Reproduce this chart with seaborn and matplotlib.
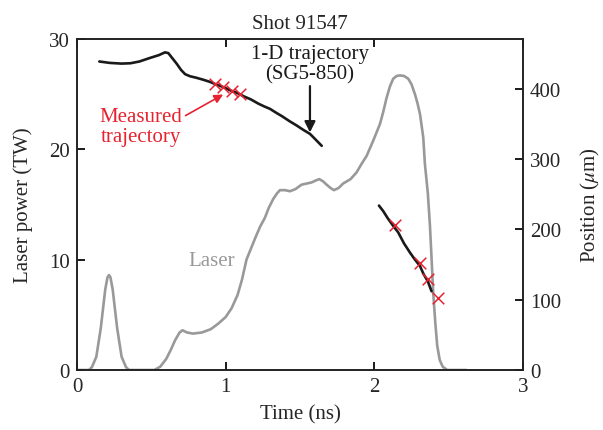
import numpy as np
import pandas as pd
import matplotlib
matplotlib.use("Agg")
import matplotlib.pyplot as plt
import seaborn as sns

# Laser pulse shape (time in ns, power in TW)
laser_time = [0.00, 0.08, 0.10, 0.13, 0.16, 0.19, 0.205, 0.215, 0.225, 0.24,
              0.27, 0.30, 0.33, 0.35, 0.52, 0.56, 0.60, 0.63, 0.66, 0.69,
              0.71, 0.74, 0.78, 0.84, 0.90, 0.95, 1.00, 1.04, 1.08, 1.11,
              1.14, 1.17, 1.20, 1.232, 1.264, 1.29, 1.32, 1.345, 1.365, 1.40,
              1.432, 1.47, 1.511, 1.545, 1.578, 1.61, 1.63, 1.655, 1.679, 1.705,
              1.728, 1.76, 1.79, 1.84, 1.88, 1.915, 1.948, 1.993, 2.038, 2.06,
              2.083, 2.105, 2.127, 2.15, 2.172, 2.20, 2.228, 2.25, 2.273, 2.29,
              2.307, 2.329, 2.34, 2.36, 2.374, 2.385, 2.396, 2.41, 2.423, 2.44,
              2.46, 2.49, 2.62]
laser_power = [0.0, 0.0, 0.25, 1.2, 3.8, 7.3, 8.4, 8.6, 8.4, 7.3,
               3.8, 1.2, 0.25, 0.0, 0.0, 0.3, 1.0, 1.8, 2.7, 3.4,
               3.6, 3.4, 3.3, 3.4, 3.7, 4.2, 4.8, 5.6, 6.8, 8.2,
               10.0, 11.0, 12.0, 13.0, 13.8, 14.7, 15.5, 16.0, 16.3, 16.3,
               16.2, 16.4, 16.8, 16.9, 17.0, 17.2, 17.3, 17.1, 16.8, 16.5,
               16.3, 16.5, 16.9, 17.3, 17.9, 18.7, 19.4, 20.8, 22.3, 23.4,
               24.7, 25.7, 26.4, 26.65, 26.7, 26.65, 26.4, 25.9, 25.0, 24.2,
               23.2, 21.1, 18.7, 16.0, 13.1, 10.1, 7.0, 4.3, 2.2, 0.9,
               0.3, 0.0, 0.0]

# 1-D simulated trajectory (SG5-850), two segments (time ns, position um)
sim1_time = [0.15, 0.22, 0.30, 0.36, 0.42, 0.49, 0.55, 0.592, 0.614, 0.64,
             0.67, 0.70, 0.727, 0.76, 0.80, 0.85, 0.894, 0.94, 0.984, 1.03,
             1.08, 1.119, 1.17, 1.22, 1.26, 1.298, 1.34, 1.38, 1.43, 1.477,
             1.52, 1.567, 1.60, 1.646]
sim1_pos = [439, 437, 436, 436.5, 439, 444, 448, 452, 451, 444,
            436, 427, 421, 418, 416, 413, 410, 406, 402.6, 398,
            394, 389.7, 385, 379, 375, 371.6, 366, 361, 354, 348,
            342, 336, 329, 319]
sim2_time = [2.031, 2.06, 2.09, 2.127, 2.16, 2.20, 2.24, 2.27, 2.307, 2.33,
             2.36, 2.385]
sim2_pos = [234, 226, 216, 205, 196, 180, 167, 158, 148, 137, 126, 112]

# Measured trajectory points
meas_time = [0.928, 0.984, 1.04, 1.096, 2.138, 2.306, 2.362, 2.425]
meas_pos = [407, 402.5, 397.7, 393, 206.7, 152, 129, 101.8]

sns.set_theme(style="ticks")
plt.rcParams["font.family"] = ["Liberation Serif", "DejaVu Serif"]
plt.rcParams["mathtext.fontset"] = "stix"

FS = 15
GRAY = "#999999"
RED = "#e62330"

fig = plt.figure(figsize=(6.03, 4.31), dpi=100)
ax = fig.add_axes([77 / 603, 1 - 371 / 431, (523 - 77) / 603, (371 - 40) / 431])
ax2 = ax.twinx()

laser_df = pd.DataFrame({"t": laser_time, "P": laser_power})
sns.lineplot(data=laser_df, x="t", y="P", ax=ax, color=GRAY, lw=1.9,
             sort=False, estimator=None)

for tt, pp in [(sim1_time, sim1_pos), (sim2_time, sim2_pos)]:
    seg = pd.DataFrame({"t": tt, "pos": pp})
    sns.lineplot(data=seg, x="t", y="pos", ax=ax2, color="#1a1a1a", lw=1.9,
                 sort=False, estimator=None)

meas_df = pd.DataFrame({"t": meas_time, "pos": meas_pos})
sns.scatterplot(data=meas_df, x="t", y="pos", ax=ax2, marker="x", s=70,
                color=RED, linewidth=1.1, zorder=5)

ax.set_xlim(0, 3)
ax.set_ylim(0, 30)
ax2.set_ylim(0, 471)
ax.set_xticks([0, 1, 2, 3])
ax.set_yticks([0, 10, 20, 30])
ax2.set_yticks([0, 100, 200, 300, 400])

ax.set_xlabel("Time (ns)", fontsize=FS, labelpad=6)
ax.set_ylabel("Laser power (TW)", fontsize=FS, labelpad=12)
ax2.set_ylabel(r"Position ($\mu$m)", fontsize=FS, labelpad=13)
ax.set_title("Shot 91547", fontsize=FS, pad=8)

ax.tick_params(axis="both", direction="in", length=6, width=1.4,
               labelsize=FS, top=True, right=False, pad=5, color="k")
ax2.tick_params(axis="y", direction="in", length=6, width=1.4,
                labelsize=FS, pad=5, color="k")
ax.tick_params(axis="x", labeltop=False)
for a in (ax, ax2):
    for sp in a.spines.values():
        sp.set_visible(True)
        sp.set_linewidth(1.2)
        sp.set_color("#222222")

# Annotations
ax2.text(1.567, 436, "1-D trajectory\n(SG5-850)", ha="center", va="center",
         fontsize=FS, color="#1a1a1a", linespacing=1.05)
ax2.annotate("", xy=(1.567, 338), xytext=(1.567, 404),
             arrowprops=dict(arrowstyle="-|>", lw=1.6, color="k",
                             mutation_scale=16, shrinkA=0, shrinkB=0))
ax2.text(0.43, 346, "Measured\ntrajectory", ha="center", va="center",
         fontsize=FS, color=RED, linespacing=1.05)
ax2.annotate("", xy=(0.983, 392), xytext=(0.73, 362),
             arrowprops=dict(arrowstyle="-|>", lw=1.2, color=RED,
                             mutation_scale=13, shrinkA=0, shrinkB=0))
ax.text(0.905, 9.9, "Laser", ha="center", va="center", fontsize=FS,
        color=GRAY)

fig.savefig("out.png", dpi=100)
